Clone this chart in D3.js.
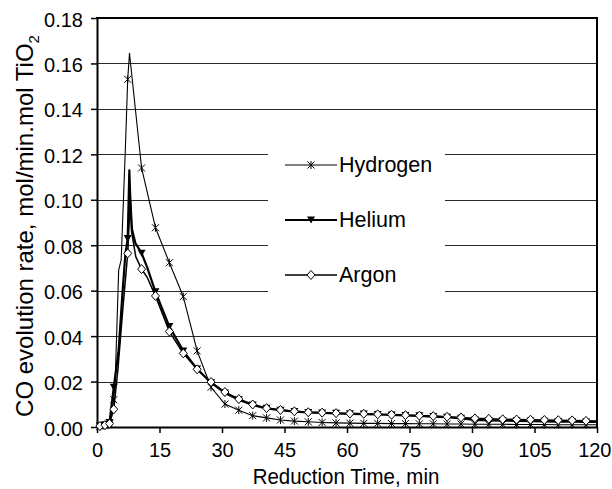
<!DOCTYPE html>
<html>
<head>
<meta charset="utf-8">
<script src="https://cdn.jsdelivr.net/npm/d3@7"></script>
<style>
  html, body { margin: 0; padding: 0; background: #fff; }
  svg { display: block; font-family: "Liberation Sans", Arial, sans-serif; }
</style>
</head>
<body>
<svg id="chart" width="612" height="489"></svg>
<script>
// ---------------- data ----------------
const xTicks = [0, 15, 30, 45, 60, 75, 90, 105, 120];
const yTicks = [0.00, 0.02, 0.04, 0.06, 0.08, 0.10, 0.12, 0.14, 0.16, 0.18];
const seriesNames = ["Hydrogen", "Helium", "Argon"];

// sampling times that carry a marker (min)
const markTimes = [0.7, 1.9, 3.0, 4.03, 7.37, 10.7, 14.03, 17.37, 20.7, 24.03, 27.37, 30.7, 34.03,
  37.37, 40.7, 44.03, 47.37, 50.7, 54.03, 57.37, 60.7, 64.03, 67.37, 70.7, 74.03, 77.37, 80.7,
  84.03, 87.37, 90.7, 94.03, 97.37, 100.7, 104.03, 107.37, 110.7, 114.03, 117.37];

const hydrogen = [0.0003, 0.0006, 0.0012, 0.012, 0.153, 0.114, 0.0877, 0.0723, 0.0574, 0.0335,
  0.0175, 0.0101, 0.0074, 0.0050, 0.0040, 0.0031, 0.0026, 0.0023, 0.0020, 0.0018, 0.0017, 0.0016,
  0.0016, 0.0015, 0.0015, 0.0014, 0.0014, 0.0013, 0.0013, 0.0012, 0.0012, 0.0012, 0.0011, 0.0011,
  0.0011, 0.0010, 0.0010, 0.0010];
const helium = [0.0005, 0.0010, 0.0020, 0.0175, 0.083, 0.0765, 0.0595, 0.0442, 0.0335, 0.0255,
  0.0195, 0.0150, 0.0120, 0.0097, 0.0082, 0.0074, 0.0068, 0.0064, 0.0062, 0.0060, 0.0058, 0.0057,
  0.0055, 0.0053, 0.0051, 0.0049, 0.0046, 0.0043, 0.0038, 0.0031, 0.0029, 0.0028, 0.0027, 0.0026,
  0.0025, 0.0024, 0.0023, 0.0022];
const argon = [0.0004, 0.0008, 0.0015, 0.0078, 0.0764, 0.0695, 0.0577, 0.0420, 0.0324, 0.0254,
  0.0198, 0.0154, 0.0123, 0.0099, 0.0083, 0.0075, 0.0069, 0.0065, 0.0063, 0.0061, 0.0059, 0.0058,
  0.0056, 0.0054, 0.0052, 0.0050, 0.0048, 0.0045, 0.0042, 0.0038, 0.0036, 0.0034, 0.0033, 0.0032,
  0.0031, 0.0030, 0.0029, 0.0027];

// intermediate readings without a marker: [time, value]
const hydrogenExtra = [[4.4, 0.022], [5.2, 0.069], [5.8, 0.0735], [6.8, 0.122], [7.8, 0.1645],
  [23.0, 0.041], [120, 0.0010]];
const heliumExtra = [[5.2, 0.034], [6.0, 0.056], [6.8, 0.076], [7.76, 0.113], [8.0, 0.100],
  [8.4, 0.087], [9.2, 0.081], [12.0, 0.0705], [120, 0.0022]];
const argonExtra = [[5.0, 0.025], [6.2, 0.052], [8.0, 0.101], [8.3, 0.086], [9.3, 0.075],
  [12.0, 0.066], [120, 0.0026]];

// ---------------- layout ----------------
const svg = d3.select("#chart");
const mLeft = 97, mRight = 597, mTop = 18, mBottom = 427;

const x = d3.scaleLinear().domain([0, 120]).range([mLeft, mRight]);
const y = d3.scaleLinear().domain([0, 0.18]).range([mBottom, mTop]);

// gridlines
svg.append("g").selectAll("line")
  .data(yTicks.filter(v => v > 0 && v < 0.18))
  .join("line")
  .attr("x1", mLeft).attr("x2", mRight)
  .attr("y1", d => Math.round(y(d)) + 0.5).attr("y2", d => Math.round(y(d)) + 0.5)
  .attr("stroke", "#2a2a2a").attr("stroke-width", 1);

// legend background (covers gridlines)
const legend = svg.append("g");
legend.append("rect").attr("x", 268).attr("y", 124).attr("width", 177).attr("height", 182)
  .attr("fill", "#fff");

// axes
const yAxis = d3.axisLeft(y).tickValues(yTicks).tickSize(6).tickSizeOuter(0)
  .tickFormat(d3.format(".2f"));
const xAxis = d3.axisBottom(x).tickValues(xTicks).tickSize(6).tickSizeOuter(0)
  .tickFormat(d3.format("d"));

const gy = svg.append("g").attr("transform", `translate(${mLeft},0)`).call(yAxis);
const gx = svg.append("g").attr("transform", `translate(0,${mBottom})`).call(xAxis);
[gx, gy].forEach(g => {
  g.select(".domain").attr("stroke", "#000").attr("stroke-width", 2);
  g.selectAll(".tick line").attr("stroke", "#000").attr("stroke-width", 1.5);
  g.selectAll(".tick text").attr("fill", "#000").attr("font-size", 20)
    .attr("font-family", "Liberation Sans, Arial, sans-serif");
});
gy.selectAll(".tick text").attr("x", -14).attr("dy", "0.4em");
gx.selectAll(".tick text").attr("y", 16).attr("dy", "0.71em");
// keep the last label inside the picture, flush with the right edge like the reference
gx.selectAll(".tick text").filter(d => d === 120).attr("text-anchor", "end").attr("dx", 14);

// frame top & right
svg.append("line").attr("x1", mLeft - 1).attr("x2", mRight + 1).attr("y1", mTop).attr("y2", mTop)
  .attr("stroke", "#000").attr("stroke-width", 2);
svg.append("line").attr("x1", mRight).attr("x2", mRight).attr("y1", mTop).attr("y2", mBottom)
  .attr("stroke", "#000").attr("stroke-width", 2);

// axis titles
svg.append("text").attr("transform", `translate(${(mLeft + mRight) / 2 - 1},484) scale(1,1.12)`)
  .attr("text-anchor", "middle").attr("font-size", 20.5).text("Reduction Time, min");
const yt = svg.append("text").attr("transform", `translate(33,226) rotate(-90)`)
  .attr("text-anchor", "middle").attr("font-size", 24);
yt.append("tspan").text("CO evolution rate, mol/min.mol TiO");
yt.append("tspan").attr("font-size", 15).attr("dy", 6).text("2");

// ---------------- series ----------------
const markers = {
  Hydrogen: g => g.append("path").attr("d", "M0,-4V4M-3.5,-3.5L3.5,3.5M-3.5,3.5L3.5,-3.5")
      .attr("stroke", "#000").attr("stroke-width", 1).attr("fill", "none"),
  Helium: g => g.append("path").attr("d", "M-4,-3.5L4,-3.5L0,3.5Z").attr("fill", "#000"),
  Argon: g => g.append("path").attr("d", "M0,-4.5L4,0L0,4.5L-4,0Z")
      .attr("fill", "#fff").attr("stroke", "#000").attr("stroke-width", 1)
};
const widths = { Hydrogen: 1.1, Helium: 2.2, Argon: 1.5 };
const values = { Hydrogen: hydrogen, Helium: helium, Argon: argon };
const extras = { Hydrogen: hydrogenExtra, Helium: heliumExtra, Argon: argonExtra };

const line = d3.line().x(d => x(d[0])).y(d => y(d[1]));
const plot = svg.append("g");
const drawOrder = ["Hydrogen", "Helium", "Argon"];
drawOrder.forEach(name => {
  const marked = markTimes.map((t, i) => [t, values[name][i]]);
  const all = marked.concat(extras[name]).sort((a, b) => a[0] - b[0]);
  plot.append("path").datum(all).attr("d", line).attr("fill", "none")
    .attr("stroke", "#000").attr("stroke-width", widths[name]).attr("stroke-linejoin", "round");
});
drawOrder.forEach(name => {
  const marked = markTimes.map((t, i) => [t, values[name][i]]);
  const g = plot.append("g");
  marked.forEach(d => {
    const m = g.append("g").attr("transform", `translate(${x(d[0])},${y(d[1])})`);
    markers[name](m);
  });
});

// legend entries
const legendY = [165, 220, 275];
seriesNames.forEach((name, i) => {
  const ly = legendY[i];
  legend.append("line").attr("x1", 285).attr("x2", 337).attr("y1", ly).attr("y2", ly)
    .attr("stroke", "#000").attr("stroke-width", widths[name]);
  const m = legend.append("g").attr("transform", `translate(311,${ly})`);
  markers[name](m);
  legend.append("text").attr("x", 339).attr("y", ly + 7).attr("font-size", 21.5).text(name);
});
</script>
</body>
</html>
